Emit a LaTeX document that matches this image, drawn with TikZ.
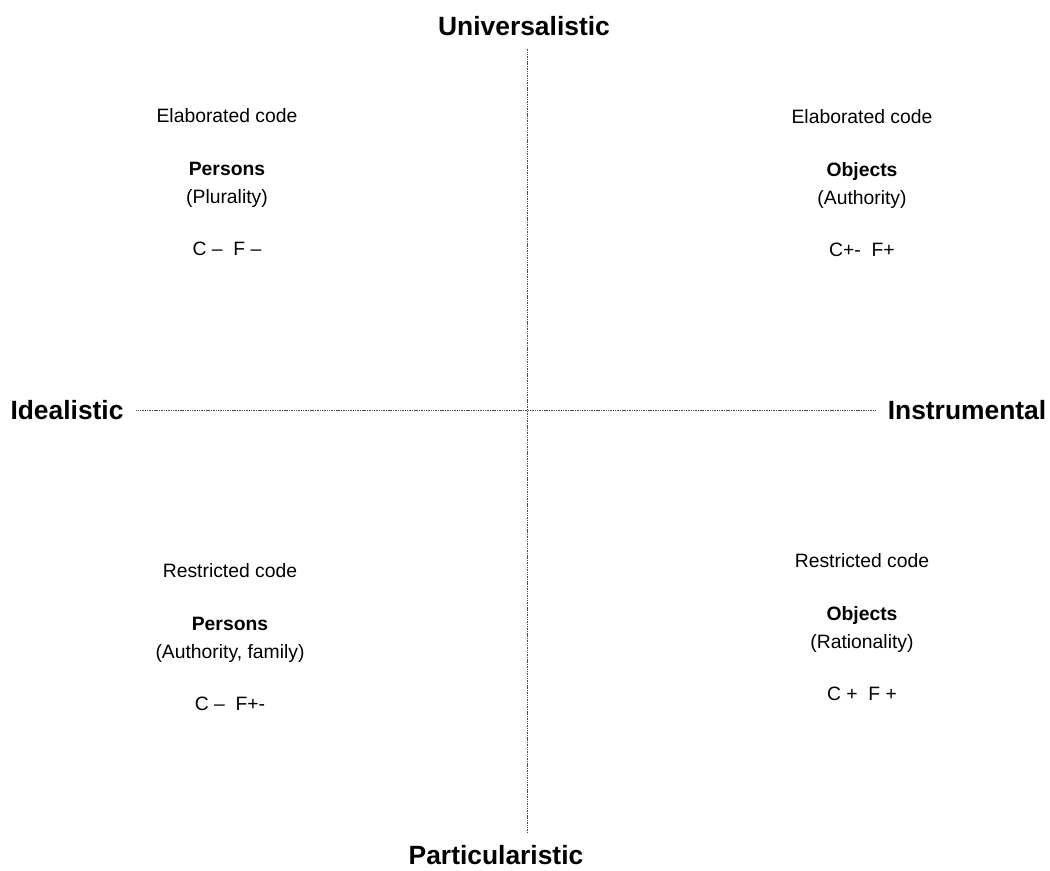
\documentclass[tikz,border=0pt]{standalone}
\usepackage{fontspec}
\setmainfont{Liberation Sans}

\tikzset{
  axislabel/.style={font=\fontsize{19.8}{24}\selectfont\bfseries, inner sep=0pt},
  quadtext/.style={font=\fontsize{14.5}{21}\selectfont, align=center, inner sep=0pt},
  axisline/.style={black!70, line width=0.5pt, dash pattern=on 0.8pt off 0.5pt,
    shorten <=9.5pt, shorten >=9.5pt}
}

\begin{document}
\begin{tikzpicture}[x=0.75pt,y=-0.75pt]
    \useasboundingbox (0,0) rectangle (1050,871);

    % the four poles
    \node[axislabel] (univ) at (524,26) {Universalistic};
    \node[axislabel] (part) at (496,855) {Particularistic};
    \node[axislabel] (ideal) at (67,410) {Idealistic};
    \node[axislabel] (instr) at (967,410) {Instrumental};

    \draw[axisline] (univ.south -| 527,0) -- (part.north -| 527,0);
    \draw[axisline] (ideal) -- (instr);

    % quadrants
    \node[quadtext] (persElab) at (227,182)
        {Elaborated code\\[19pt]\textbf{Persons}\\(Plurality)\\[18pt]C –\ \ F –};
    \node[quadtext] (objElab) at (862,183)
        {Elaborated code\\[19pt]\textbf{Objects}\\(Authority)\\[18pt]C+-\ \ F+};
    \node[quadtext] (persRestr) at (230,637)
        {Restricted code\\[19pt]\textbf{Persons}\\(Authority, family)\\[18pt]C –\ \ F+-};
    \node[quadtext] (objRestr) at (862,627)
        {Restricted code\\[19pt]\textbf{Objects}\\(Rationality)\\[18pt]C +\ \ F +};
\end{tikzpicture}
\end{document}
